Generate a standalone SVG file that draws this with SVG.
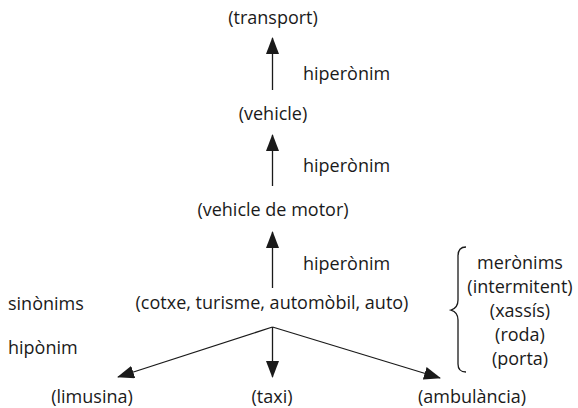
<svg xmlns="http://www.w3.org/2000/svg" width="578" height="408" viewBox="0 0 578 408">
  <style>
    text { font-family: "Open Sans", "Noto Sans", sans-serif; font-size: 18px; fill: #1a1a1a; }
    .c { text-anchor: middle; }
    .edge { stroke: #1a1a1a; stroke-width: 1.3; fill: none; }
  </style>
  <defs>
    <marker id="arrow" viewBox="0 0 17 13" refX="16" refY="6.5" markerWidth="17" markerHeight="13" markerUnits="userSpaceOnUse" orient="auto">
      <path d="M0,0 L17,6.5 L0,13 Z" fill="#1a1a1a"/>
    </marker>
  </defs>
  <rect width="578" height="408" fill="#ffffff"/>

  <g id="transport"><text class="c" x="273" y="24">(transport)</text></g>
  <g id="vehicle"><text class="c" x="273" y="120">(vehicle)</text></g>
  <g id="vehicle-motor"><text class="c" x="273" y="216">(vehicle de motor)</text></g>
  <g id="cotxe"><text class="c" x="272" y="309">(cotxe, turisme, automòbil, auto)</text></g>
  <g id="limusina"><text class="c" x="92" y="403">(limusina)</text></g>
  <g id="taxi"><text class="c" x="272" y="403">(taxi)</text></g>
  <g id="ambulancia"><text class="c" x="472" y="403">(ambulància)</text></g>

  <g id="labels">
    <text x="303" y="80">hiperònim</text>
    <text x="303" y="172">hiperònim</text>
    <text x="303" y="270">hiperònim</text>
    <text x="8" y="310">sinònims</text>
    <text x="8" y="354">hipònim</text>
  </g>

  <g id="meronims">
    <path class="edge" d="M466,247 Q458,247 458,256 L458,300 Q458,308 451,310 Q458,312 458,320 L458,364 Q458,372 466,372"/>
    <text class="c" x="520" y="269">merònims</text>
    <text class="c" x="520" y="293">(intermitent)</text>
    <text class="c" x="520" y="317">(xassís)</text>
    <text class="c" x="520" y="341">(roda)</text>
    <text class="c" x="520" y="365">(porta)</text>
  </g>

  <g id="connectors">
    <line class="edge" x1="272.5" y1="90" x2="272.5" y2="38" marker-end="url(#arrow)"/>
    <line class="edge" x1="272.5" y1="186" x2="272.5" y2="135" marker-end="url(#arrow)"/>
    <line class="edge" x1="272.5" y1="288" x2="272.5" y2="232" marker-end="url(#arrow)"/>
    <line class="edge" x1="272.5" y1="327" x2="118" y2="377" marker-end="url(#arrow)"/>
    <line class="edge" x1="272.5" y1="327" x2="272.5" y2="377" marker-end="url(#arrow)"/>
    <line class="edge" x1="272.5" y1="327" x2="440" y2="378" marker-end="url(#arrow)"/>
  </g>
</svg>
